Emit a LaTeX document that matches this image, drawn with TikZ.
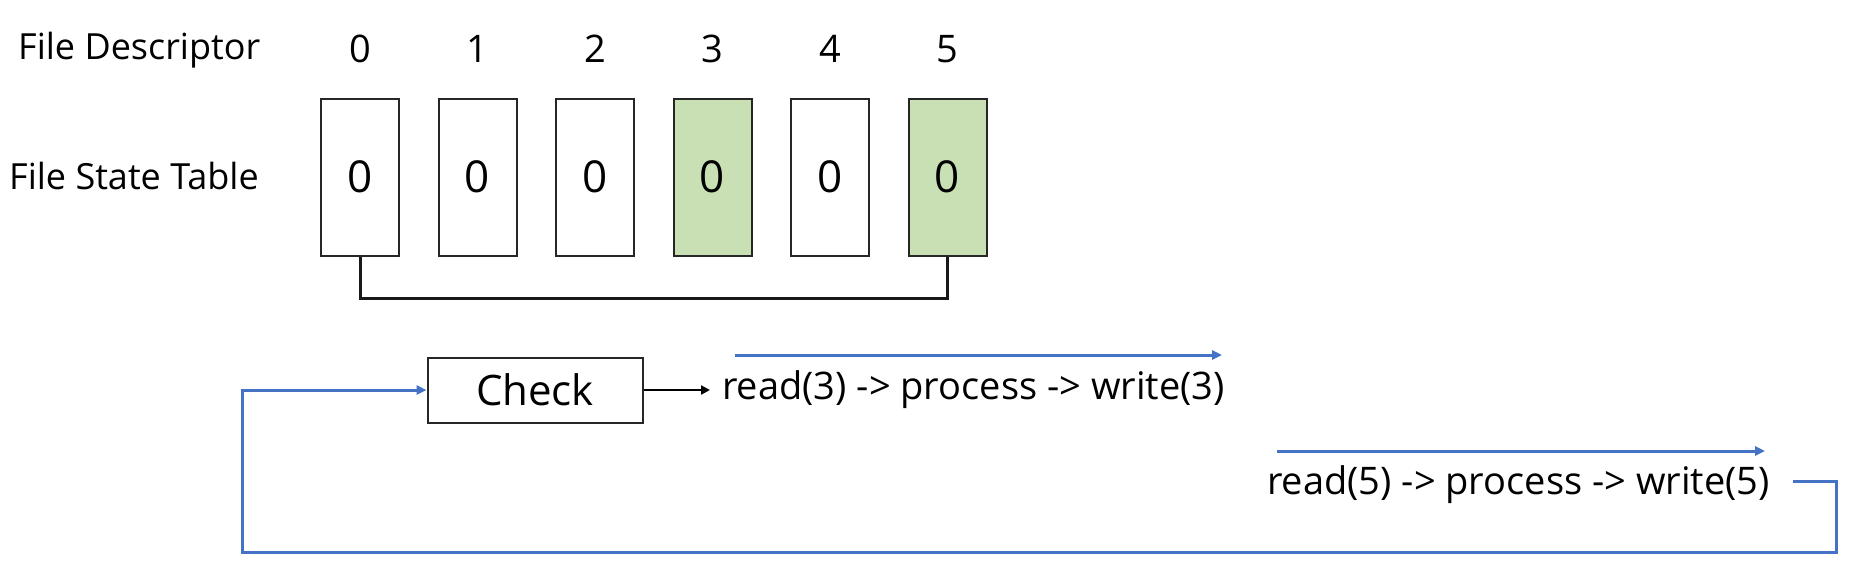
\documentclass[tikz,border=0pt]{standalone}
\usepackage{fontspec}
\setmainfont{Open Sans}
\usetikzlibrary{arrows.meta}
\definecolor{lineblue}{RGB}{68,114,196}
\definecolor{cellgreen}{RGB}{200,224,180}
\begin{document}
\begin{tikzpicture}[x=1pt,y=-1pt,
  txt/.style={font=\fontsize{36}{42}\selectfont, inner sep=0pt},
  num/.style={font=\fontsize{38}{44}\selectfont, inner sep=0pt},
  flow/.style={font=\fontsize{38}{44}\selectfont, inner sep=0pt},
  cell/.style={draw=black!85, line width=2pt, minimum width=78pt, minimum height=157pt, inner sep=0pt, font=\fontsize{44}{50}\selectfont},
  green cell/.style={cell, fill=cellgreen},
  checkbox/.style={draw=black!85, line width=2pt, minimum width=215pt, minimum height=65pt, inner sep=0pt, font=\fontsize{42}{48}\selectfont},
  bluearrow/.style={draw=lineblue, line width=3pt, -{Triangle[length=10pt,width=9pt]}},
  blueline/.style={draw=lineblue, line width=3pt},
  blackarrow/.style={draw=black, line width=2.5pt, -{Triangle[length=9pt,width=9pt]}}]
\useasboundingbox (0,0) rectangle (1862,582);
% labels
\node[txt, anchor=west] (fd) at (18,50) {File Descriptor};
\node[txt, anchor=west] (fst) at (9,176) {File State Table};
% descriptor numbers and cells
\foreach \i/\x in {0/360,1/477.5,2/595,3/712.5,4/830,5/947.5}{
  \node[num] (d\i) at (\x,49) {\i};
}
\node[cell] (b0) at (360,177) {0};
\node[cell] (b1) at (477.5,177) {0};
\node[cell] (b2) at (595,177) {0};
\node[green cell] (b3) at (712.5,177) {0};
\node[cell] (b4) at (830,177) {0};
\node[green cell] (b5) at (947.5,177) {0};
% bracket
\draw[black!90, line width=3pt] (b0.south) -- ([yshift=-42pt]b0.south) -| (b5.south);
% check
\node[checkbox] (chk) at (535,390) {Check};
\node[flow, anchor=west] (t1) at (722,390) {read(3) -> process -> write(3)};
\node[flow, anchor=west] (t2) at (1267,485) {read(5) -> process -> write(5)};
\draw[blackarrow] (chk.east) -- ([xshift=-12pt]t1.west);
% blue arrows above texts
\coordinate (a1s) at (735,355);
\coordinate (a1e) at (1222,355);
\coordinate (a2s) at (1277,451);
\coordinate (a2e) at (1765,451);
\draw[bluearrow] (a1s) -- (a1e);
\draw[bluearrow] (a2s) -- (a2e);
% loop back
\coordinate (ls) at (1793,481);
\coordinate (lr) at (1836,552);
\coordinate (ll) at (242,552);
\draw[blueline, -{Triangle[length=10pt,width=9pt]}] (ls) -| (lr) -| (ll) |- (chk.west);
\end{tikzpicture}
\end{document}
